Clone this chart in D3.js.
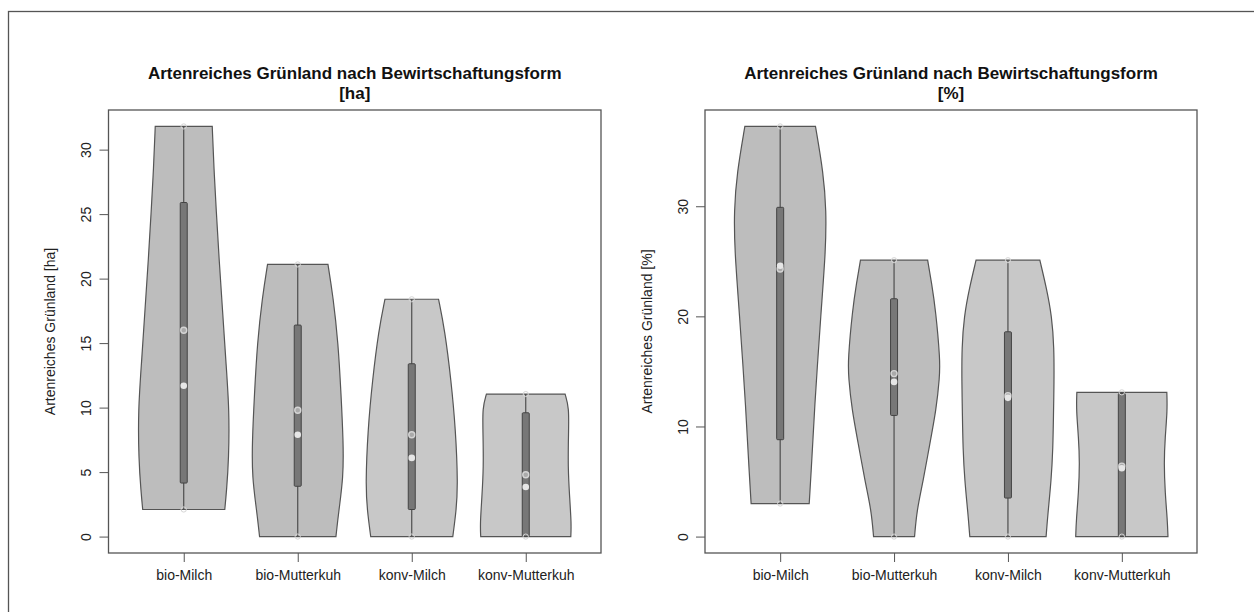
<!DOCTYPE html>
<html>
<head>
<meta charset="utf-8">
<script src="https://cdn.jsdelivr.net/npm/d3@7"></script>
<style>
  body { margin: 0; background: #fff; }
  svg { display: block; font-family: "Liberation Sans", Arial, sans-serif; }
</style>
</head>
<body>
<div id="root"></div>
<script>
const categories = ['bio-Milch', 'bio-Mutterkuh', 'konv-Milch', 'konv-Mutterkuh'];
const titleMain = 'Artenreiches Grünland nach Bewirtschaftungsform';

// [ha] panel
const haMin = [2.1, 0, 0, 0];
const haMax = [31.8, 21.1, 18.4, 11.05];
const haQ1 = [4.15, 3.9, 2.1, 0];
const haQ3 = [25.9, 16.4, 13.4, 9.6];
const haMedian = [11.7, 7.9, 6.1, 3.85];
const haMean = [16.0, 9.8, 7.9, 4.8];
const haTicks = [0, 5, 10, 15, 20, 25, 30];
// violin outline: levels (value) and half widths (in category units)
const haLevels = [
  [2.1, 3.5, 6, 9.8, 13.5, 17.6, 21.5, 25.3, 28.5, 31.8],
  [0, 2, 4.6, 7.3, 11, 15, 18.6, 21.1],
  [0, 2, 4, 8.3, 12.1, 16, 18.4],
  [0, 1, 3, 5.4, 8, 10, 11.05]
];
const haWidths = [
  [0.36, 0.375, 0.395, 0.40, 0.37, 0.34, 0.31, 0.285, 0.265, 0.25],
  [0.335, 0.36, 0.40, 0.40, 0.38, 0.355, 0.31, 0.265],
  [0.36, 0.39, 0.405, 0.385, 0.345, 0.29, 0.235],
  [0.395, 0.40, 0.385, 0.37, 0.375, 0.38, 0.345]
];

// [%] panel
const pctMin = [3.0, 0, 0, 0];
const pctMax = [37.25, 25.1, 25.1, 13.1];
const pctQ1 = [8.8, 11.0, 3.5, 0];
const pctQ3 = [29.9, 21.6, 18.6, 13.0];
const pctMedian = [24.6, 14.05, 12.6, 6.2];
const pctMean = [24.3, 14.8, 12.8, 6.4];
const pctTicks = [0, 10, 20, 30];
const pctLevels = [
  [3.0, 5.4, 11.5, 20.6, 26, 29.6, 33, 37.25],
  [0, 2.4, 5, 8.5, 11.5, 14.5, 16, 20.6, 23, 25.1],
  [0, 2, 5.1, 8, 11.2, 14, 17.2, 20, 22.5, 25.1],
  [0, 1.5, 4, 6.7, 9, 11.5, 13.1]
];
const pctWidths = [
  [0.255, 0.27, 0.30, 0.36, 0.40, 0.405, 0.38, 0.31],
  [0.18, 0.20, 0.255, 0.315, 0.37, 0.40, 0.405, 0.365, 0.33, 0.295],
  [0.335, 0.35, 0.38, 0.395, 0.40, 0.405, 0.405, 0.385, 0.34, 0.28],
  [0.405, 0.40, 0.38, 0.37, 0.38, 0.40, 0.395]
];

const violinFill = ['#bdbdbd', '#bdbdbd', '#c8c8c8', '#c8c8c8'];

const width = 1254, height = 612;
const svg = d3.select('#root').append('svg')
  .attr('width', width).attr('height', height);

// outer frame
svg.append('rect')
  .attr('x', 8.5).attr('y', 11.5)
  .attr('width', 1400).attr('height', 800)
  .attr('fill', 'none').attr('stroke', '#555').attr('stroke-width', 1.3);

const panels = [
  {left: 108.5, right: 601, top: 110, bottom: 553, unit: '[ha]', ylab: 'Artenreiches Grünland [ha]',
    min: haMin, max: haMax, q1: haQ1, q3: haQ3, median: haMedian, mean: haMean,
    ticks: haTicks, levels: haLevels, widths: haWidths},
  {left: 705, right: 1197, top: 110, bottom: 553, unit: '[%]', ylab: 'Artenreiches Grünland [%]',
    min: pctMin, max: pctMax, q1: pctQ1, q3: pctQ3, median: pctMedian, mean: pctMean,
    ticks: pctTicks, levels: pctLevels, widths: pctWidths}
];

panels.forEach(p => {
  const hi = d3.max(p.max);
  const x = d3.scaleLinear().domain([0.34, 4.66]).range([p.left, p.right]);
  const y = d3.scaleLinear().domain([-0.04 * hi, hi * 1.04]).range([p.bottom, p.top]);
  const g = svg.append('g');
  const cx = (p.left + p.right) / 2;

  // title
  g.append('text').attr('x', cx).attr('y', 79)
    .attr('text-anchor', 'middle').attr('font-weight', 'bold').attr('font-size', 17)
    .attr('fill', '#111').text(titleMain);
  g.append('text').attr('x', cx).attr('y', 99)
    .attr('text-anchor', 'middle').attr('font-weight', 'bold').attr('font-size', 17)
    .attr('fill', '#111').text(p.unit);

  // violins
  categories.forEach((c, i) => {
    const pos = i + 1;
    const pts = p.levels[i].map((v, k) => [v, p.widths[i][k]]);
    const area = d3.area()
      .curve(d3.curveBasis)
      .y(d => y(d[0]))
      .x0(d => x(pos - d[1]))
      .x1(d => x(pos + d[1]));
    g.append('path')
      .attr('d', area(pts))
      .attr('fill', violinFill[i])
      .attr('stroke', '#555')
      .attr('stroke-width', 1.2);

    // whisker
    g.append('line')
      .attr('x1', x(pos)).attr('x2', x(pos))
      .attr('y1', y(p.min[i])).attr('y2', y(p.max[i]))
      .attr('stroke', '#444').attr('stroke-width', 1.1);

    // box
    g.append('rect')
      .attr('x', x(pos) - 3.5).attr('width', 7)
      .attr('y', y(p.q3[i])).attr('height', y(p.q1[i]) - y(p.q3[i]))
      .attr('rx', 1)
      .attr('fill', '#777').attr('stroke', '#444').attr('stroke-width', 1);

    // end marks
    [p.min[i], p.max[i]].forEach(v => {
      g.append('circle').attr('cx', x(pos)).attr('cy', y(v)).attr('r', 2.6)
        .attr('fill', 'none').attr('stroke', '#d6d6d6').attr('stroke-width', 1);
    });
    // mean
    g.append('circle').attr('cx', x(pos)).attr('cy', y(p.mean[i])).attr('r', 3)
      .attr('fill', '#aaa').attr('stroke', '#d4d4d4').attr('stroke-width', 1.4);
    // median
    g.append('circle').attr('cx', x(pos)).attr('cy', y(p.median[i])).attr('r', 3.3)
      .attr('fill', '#e6e6e6').attr('stroke', 'none');
  });

  // plot box
  g.append('rect')
    .attr('x', p.left).attr('y', p.top)
    .attr('width', p.right - p.left).attr('height', p.bottom - p.top)
    .attr('fill', 'none').attr('stroke', '#555').attr('stroke-width', 1.3);

  // y axis
  const ya = g.append('g').attr('transform', `translate(${p.left},0)`)
    .call(d3.axisLeft(y).tickValues(p.ticks).tickSize(9).tickSizeOuter(0));
  ya.select('.domain').remove();
  ya.selectAll('line').attr('stroke', '#555');
  ya.selectAll('text')
    .attr('x', 0).attr('dy', '0.35em')
    .attr('transform', 'translate(-22,0) rotate(-90)')
    .attr('text-anchor', 'middle')
    .attr('font-size', 14).attr('fill', '#222')
    .attr('font-family', '"Liberation Sans", Arial, sans-serif');

  // x axis
  const xa = g.append('g').attr('transform', `translate(0,${p.bottom})`)
    .call(d3.axisBottom(x).tickValues([1, 2, 3, 4]).tickFormat((d) => categories[d - 1]).tickSize(9).tickSizeOuter(0));
  xa.select('.domain').remove();
  xa.selectAll('line').attr('stroke', '#555');
  xa.selectAll('text')
    .attr('y', 22).attr('dy', '0.35em')
    .attr('font-size', 14).attr('fill', '#222')
    .attr('font-family', '"Liberation Sans", Arial, sans-serif');

  // y label
  g.append('text')
    .attr('transform', `translate(${p.left - 58},${(p.top + p.bottom) / 2}) rotate(-90)`)
    .attr('dy', '0.35em')
    .attr('text-anchor', 'middle').attr('font-size', 14).attr('fill', '#222')
    .text(p.ylab);
});
</script>
</body>
</html>
